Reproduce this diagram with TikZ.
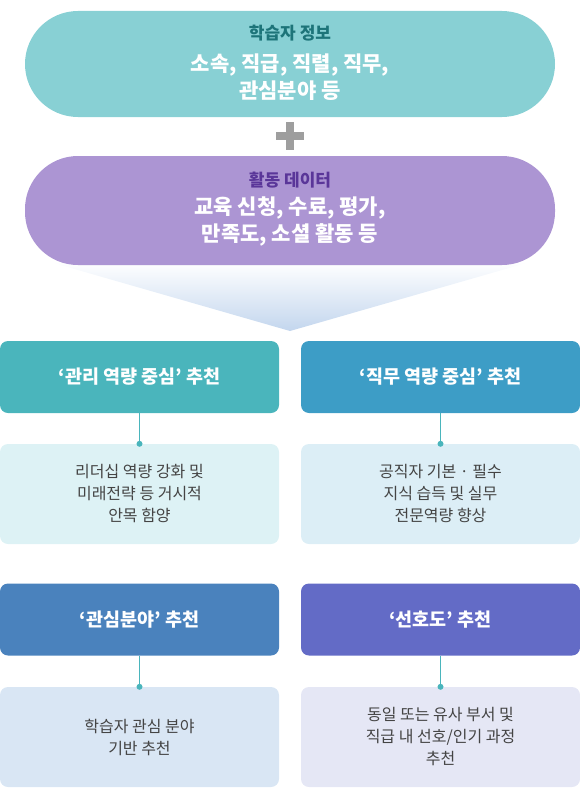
\documentclass[tikz,border=0pt]{standalone}
\usepackage{fontspec}
\setmainfont{Noto Sans CJK KR}
\usetikzlibrary{positioning}
\definecolor{infofill}{HTML}{88D0D4}
\definecolor{infotitle}{HTML}{1D7479}
\definecolor{actfill}{HTML}{AC95D3}
\definecolor{acttitle}{HTML}{5A3699}
\definecolor{plusgray}{HTML}{9E9E9E}
\definecolor{funnelblue}{HTML}{C3D6EE}
\definecolor{mgrhead}{HTML}{4AB5BC}
\definecolor{jobhead}{HTML}{3D9DC6}
\definecolor{intrhead}{HTML}{4A82BD}
\definecolor{prefhead}{HTML}{636BC6}
\definecolor{mgrbody}{HTML}{DDF2F5}
\definecolor{jobbody}{HTML}{DCEEF6}
\definecolor{intrbody}{HTML}{D9E6F4}
\definecolor{prefbody}{HTML}{E5E7F5}
\definecolor{linkteal}{HTML}{4AB5BC}
\definecolor{bodytext}{HTML}{444444}

\begin{document}
\begin{tikzpicture}[x=1pt,y=-1pt,
  pill/.style={rounded corners=53pt,minimum width=530pt,inner sep=0pt},
  head/.style={fill=#1,rounded corners=8pt,minimum width=279pt,minimum height=72pt,
    inner sep=0pt,text=white,font=\fontsize{18.5}{22}\selectfont\bfseries},
  body/.style={fill=#1,rounded corners=8pt,minimum width=279pt,minimum height=100pt,
    inner sep=0pt,align=center,text=bodytext,font=\fontsize{16}{22}\selectfont},
  link/.style={linkteal,line width=1pt}]
\useasboundingbox (0,0) rectangle (580,800);

% funnel under the two inputs
\shade[top color=white,bottom color=funnelblue] (50,262) -- (530,262) -- (290,331) -- cycle;

% inputs
\node[pill,fill=infofill,minimum height=106pt] (info) at (290,64) {};
\node[text=infotitle,font=\fontsize{17}{20}\selectfont\bfseries] (infot) at (290,33) {학습자 정보};
\node[text=white,align=center,font=\fontsize{21}{27}\selectfont\bfseries] (infob) at (290,77)
  {소속, 직급, 직렬, 직무,\\관심분야 등};

\draw[plusgray,line width=8pt] (276,136) -- (304,136) (290,122) -- (290,150);

\node[pill,fill=actfill,minimum height=109pt] (act) at (290,210.5) {};
\node[text=acttitle,font=\fontsize{17}{20}\selectfont\bfseries] (actt) at (290,180) {활동 데이터};
\node[text=white,align=center,font=\fontsize{21}{27}\selectfont\bfseries] (actb) at (290,221)
  {교육 신청, 수료, 평가,\\만족도, 소셜 활동 등};

% recommendations
\node[head=mgrhead] (mgr) at (139.5,377) {‘관리 역량 중심’ 추천};
\node[head=jobhead] (job) at (440.5,377) {‘직무 역량 중심’ 추천};
\node[body=mgrbody] (mgrd) at (139.5,494) {리더십 역량 강화 및\\미래전략 등 거시적\\안목 함양};
\node[body=jobbody] (jobd) at (440.5,494) {공직자 기본 · 필수\\지식 습득 및 실무\\전문역량 향상};

\node[head=intrhead] (intr) at (139.5,619.5) {‘관심분야’ 추천};
\node[head=prefhead] (pref) at (440.5,619.5) {‘선호도’ 추천};
\node[body=intrbody] (intrd) at (139.5,737) {학습자 관심 분야\\기반 추천};
\node[body=prefbody] (prefd) at (440.5,737) {동일 또는 유사 부서 및\\직급 내 선호/인기 과정\\추천};

\foreach \h/\d in {mgr/mgrd,job/jobd,intr/intrd,pref/prefd}{
  \draw[link] (\h.south) -- (\d.north);
  \fill[linkteal] (\d.north) circle (3pt);
}

\end{tikzpicture}
\end{document}
